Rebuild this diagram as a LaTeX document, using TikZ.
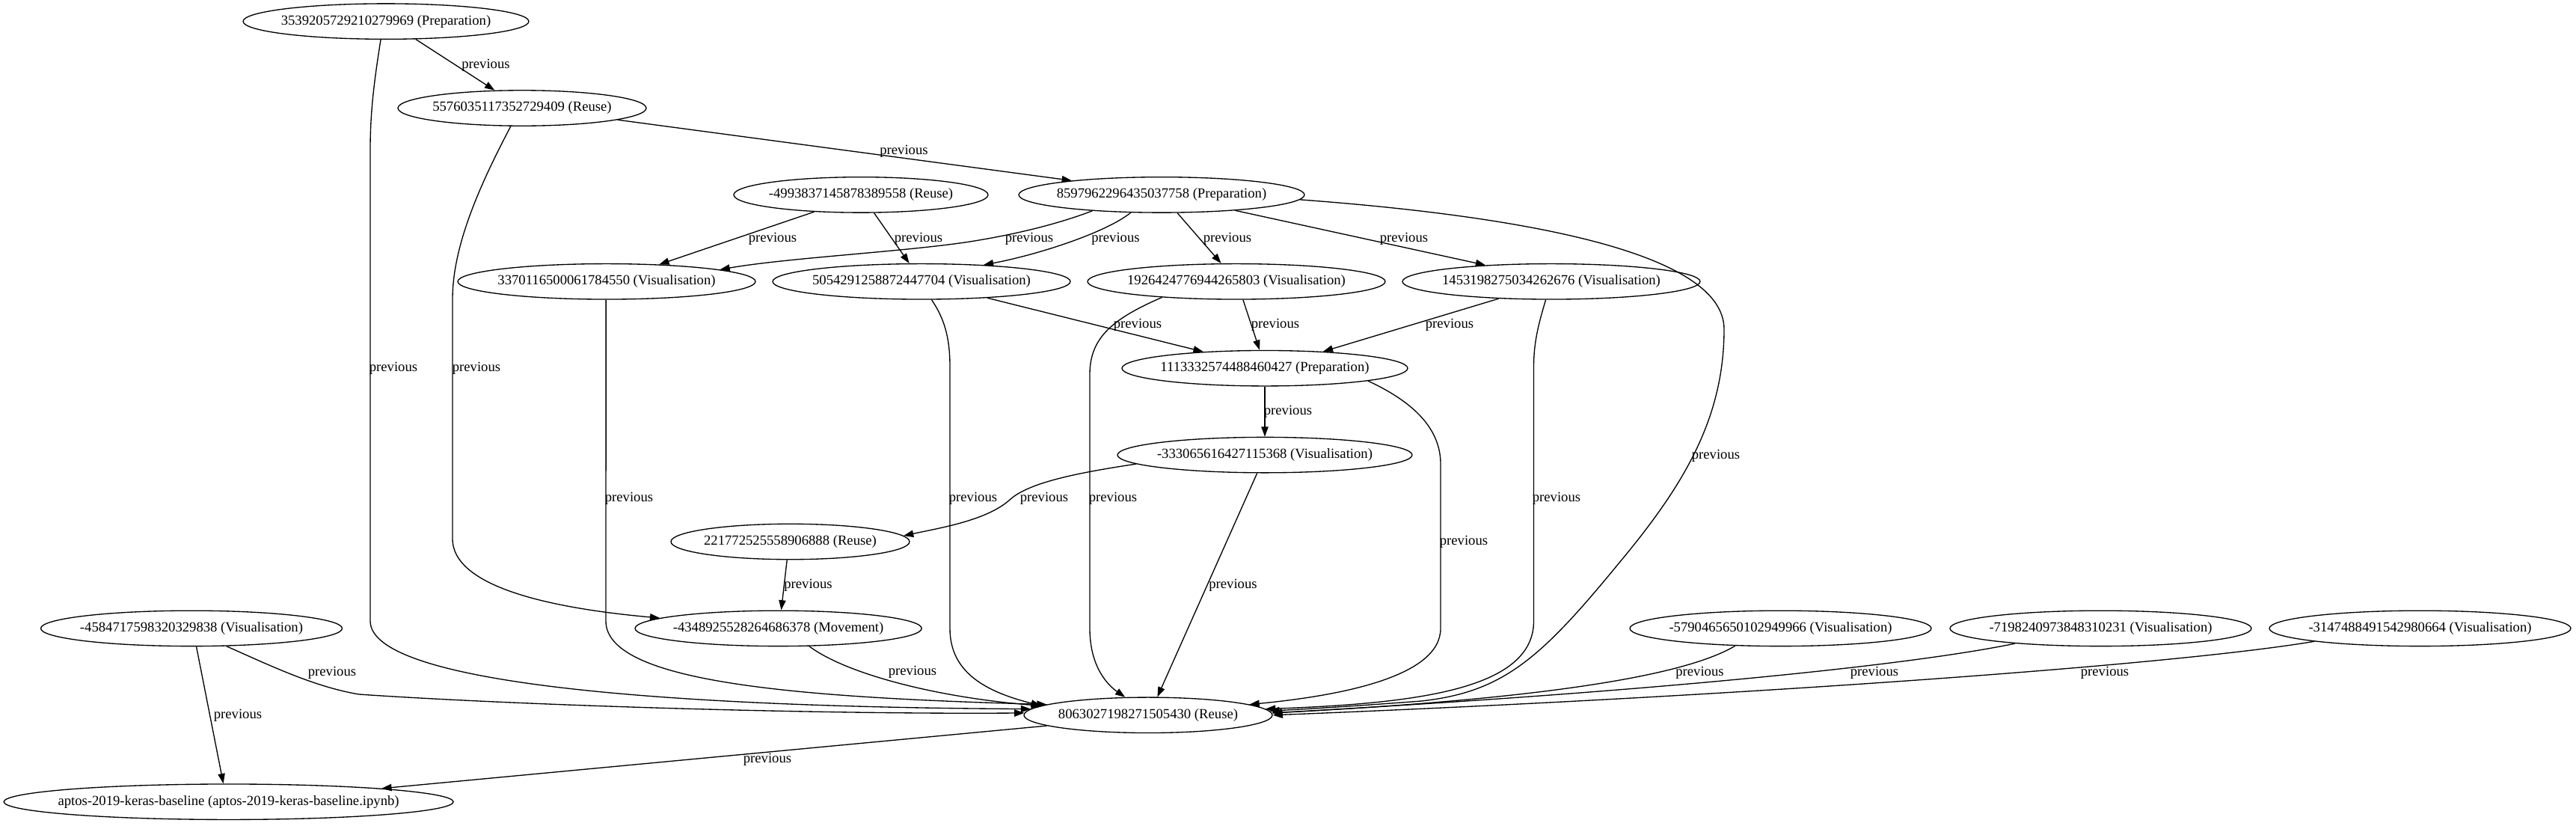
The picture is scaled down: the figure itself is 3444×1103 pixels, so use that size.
\documentclass[tikz,border=0pt]{standalone}
\usepackage{fontspec}
\setmainfont{Liberation Serif}
\usetikzlibrary{arrows.meta,shapes.geometric}
\tikzset{
  ell/.style={draw, ellipse, line width=1pt, inner sep=0pt, minimum height=35.6pt,
    minimum width=#1*1.5pt, font=\fontsize{14pt}{16pt}\selectfont},
  conn/.style={line width=1pt, -{Triangle[length=10pt,width=7pt]}},
  lbl/.style={inner sep=0pt, font=\fontsize{14pt}{16pt}\selectfont},
}
\begin{document}
\begin{tikzpicture}[x=0.75pt,y=-0.75pt]
\useasboundingbox (0,0) rectangle (3444,1103);
% nodes
\node[ell=191]   (A) at (516,28.6)    {\makebox[0pt]{3539205729210279969 (Preparation)}};
\node[ell=166]   (B) at (698,144.5)   {\makebox[0pt]{5576035117352729409 (Reuse)}};
\node[ell=170]   (C) at (1151,260.4)  {\makebox[0pt]{-4993837145878389558 (Reuse)}};
\node[ell=191]   (D) at (1553,260.4)  {\makebox[0pt]{8597962296435037758 (Preparation)}};
\node[ell=199]   (E) at (811,376.3)   {\makebox[0pt]{3370116500061784550 (Visualisation)}};
\node[ell=199]   (F) at (1232,376.3)  {\makebox[0pt]{5054291258872447704 (Visualisation)}};
\node[ell=199]   (G) at (1653,376.3)  {\makebox[0pt]{1926424776944265803 (Visualisation)}};
\node[ell=199]   (H) at (2074,376.3)  {\makebox[0pt]{1453198275034262676 (Visualisation)}};
\node[ell=191]   (I) at (1691,492.2)  {\makebox[0pt]{1113332574488460427 (Preparation)}};
\node[ell=197]   (J) at (1691,608.1)  {\makebox[0pt]{-333065616427115368 (Visualisation)}};
\node[ell=159.5] (K) at (1056.5,724)  {\makebox[0pt]{221772525558906888 (Reuse)}};
\node[ell=191.6] (L) at (1040.6,839.9) {\makebox[0pt]{-4348925528264686378 (Movement)}};
\node[ell=201.5] (M) at (256,839.9)   {\makebox[0pt]{-4584717598320329838 (Visualisation)}};
\node[ell=166]   (N) at (1535,955.8)  {\makebox[0pt]{8063027198271505430 (Reuse)}};
\node[ell=300.5] (O) at (305.6,1071.7) {\makebox[0pt]{aptos-2019-keras-baseline (aptos-2019-keras-baseline.ipynb)}};
\node[ell=201.5] (P) at (2380.5,839.9) {\makebox[0pt]{-5790465650102949966 (Visualisation)}};
\node[ell=201.5] (Q) at (2808.5,839.9) {\makebox[0pt]{-7198240973848310231 (Visualisation)}};
\node[ell=201.5] (R) at (3235.5,839.9) {\makebox[0pt]{-3147488491542980664 (Visualisation)}};
% edges
\draw[conn] (A.-31.8) -- (B.147.2);
\draw[conn] (A.-106.4) .. controls (500,110) and (495,150) .. (495,200) -- (495,830) .. controls (495,915) and (900,945) .. (N.177.7);
\draw[conn] (B.-7.9) -- (D.171.9);
\draw[conn] (B.-122.9) .. controls (640,250) and (605,330) .. (605,400) -- (605,720) .. controls (605,790) and (760,815) .. (L.175.3);
\draw[conn] (C.-160.9) -- (E.18.7);
\draw[conn] (C.-54.3) -- (F.124);
\draw[conn] (D.-167.3) .. controls (1400,305) and (1330,318) .. (1290,324) .. controls (1200,337) and (1050,345) .. (E.6.6);
\draw[conn] (D.-150.8) .. controls (1480,310) and (1390,340) .. (F.15.3);
\draw[conn] (D.-49) -- (G.130.6);
\draw[conn] (D.-12.7) -- (H.166.8);
\draw[conn] (D.-2) .. controls (2050,290) and (2305,340) .. (2305,440) .. controls (2305,560) and (2250,650) .. (2165,752) .. controls (2060,880) and (2010,925) .. (1900,937) .. controls (1820,943) and (1760,947) .. (N.2.85);
\draw[conn] (E.-92) -- (810,830) .. controls (810,910) and (1050,932) .. (N.174.2);
\draw[conn] (F.-14.5) -- (I.165.75);
\draw[conn] (F.-61.2) .. controls (1262,425) and (1270,450) .. (1270,490) -- (1270,840) .. controls (1270,900) and (1320,925) .. (N.175.3);
\draw[conn] (G.-70.3) -- (I.106.5);
\draw[conn] (G.-168.4) .. controls (1490,425) and (1457,450) .. (1457,500) -- (1457,840) .. controls (1457,890) and (1480,915) .. (N.142.1);
\draw[conn] (H.-162.7) -- (I.16.9);
\draw[conn] (H.-107.8) .. controls (2058,430) and (2050.5,455) .. (2050.5,490) -- (2050.5,830) .. controls (2050.5,920) and (1900,940) .. (N.3.7);
\draw[conn] (I.south) -- (J.north);
\draw[conn] (I.-7.6) .. controls (1885,535) and (1926,570) .. (1926,620) -- (1926,840) .. controls (1926,905) and (1790,930) .. (N.6.5);
\draw[conn] (J.-176.2) .. controls (1440,632) and (1375,645) .. (1350,668) .. controls (1320,695) and (1260,705) .. (K.3.8);
\draw[conn] (J.-113.7) -- (N.63.1);
\draw[conn] (K.-100.8) -- (L.81.8);
\draw[conn] (L.-30.2) .. controls (1130,900) and (1250,932) .. (N.175.3);
\draw[conn] (M.-27.5) .. controls (360,889) and (420,918) .. (480,928) .. controls (700,943) and (1100,955) .. (N.179);
\draw[conn] (M.-75.8) -- (O.106.5);
\draw[conn] (N.-174.7) -- (O.5.5);
\draw[conn] (P.-159.9) .. controls (2250,905) and (2050,935) .. (N.1.7);
\draw[conn] (Q.-170.7) .. controls (2550,890) and (2200,925) .. (N.1.2);
\draw[conn] (R.-173.6) .. controls (2900,890) and (2300,932) .. (N.0.6);
% edge labels
\node[lbl] (l1)  at (649.5,87.3) {previous};
\node[lbl] (l2)  at (526,492.5)  {previous};
\node[lbl] (l3)  at (1208.5,202.6) {previous};
\node[lbl] (l4)  at (637,492.5)  {previous};
\node[lbl] (l5)  at (1033,319)   {previous};
\node[lbl] (l6)  at (1228,319)   {previous};
\node[lbl] (l7)  at (1376,319)   {previous};
\node[lbl] (l8)  at (1491.5,319) {previous};
\node[lbl] (l9)  at (1641,319)   {previous};
\node[lbl] (l10) at (1877,319)   {previous};
\node[lbl] (l11) at (2294,609)   {previous};
\node[lbl] (l12) at (841,666)    {previous};
\node[lbl] (l13) at (1521,434)   {previous};
\node[lbl] (l14) at (1301,666)   {previous};
\node[lbl] (l15) at (1705,434)   {previous};
\node[lbl] (l16) at (1488,666)   {previous};
\node[lbl] (l17) at (1938,434)   {previous};
\node[lbl] (l18) at (2081,666)   {previous};
\node[lbl] (l19) at (1722,550)   {previous};
\node[lbl] (l20) at (1957,724.6) {previous};
\node[lbl] (l21) at (1396,666)   {previous};
\node[lbl] (l22) at (1648.5,782.5) {previous};
\node[lbl] (l23) at (1080.5,782.5) {previous};
\node[lbl] (l24) at (1220,898)   {previous};
\node[lbl] (l25) at (444,899)    {previous};
\node[lbl] (l26) at (318,956.7)  {previous};
\node[lbl] (l27) at (1026,1015)  {previous};
\node[lbl] (l28) at (2272.5,899) {previous};
\node[lbl] (l29) at (2506,899)   {previous};
\node[lbl] (l30) at (2814,899)   {previous};
\end{tikzpicture}
\end{document}
